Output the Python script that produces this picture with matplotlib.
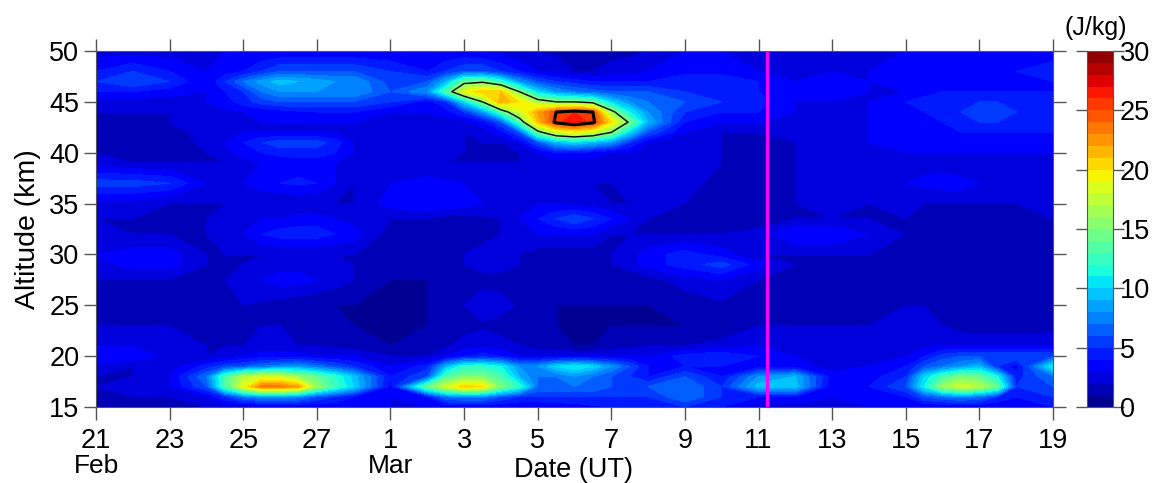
import numpy as np
import matplotlib as mpl
mpl.use('Agg')
import matplotlib.pyplot as plt

plt.rcParams['font.family'] = ['Liberation Sans', 'DejaVu Sans']

# days since 21 Feb, read finer where the features are narrow
days = [0, 1, 2, 3,
        3.5, 4, 4.5, 5, 5.5, 6, 6.5, 7,
        8, 9,
        9.5, 10, 10.5, 11, 11.5, 12, 12.5, 13, 13.5, 14, 14.5, 15,
        16, 17, 18, 19, 20, 21, 22,
        22.5, 23, 23.5, 24, 24.5, 25, 26]
altitudes = [15, 16, 17, 18, 19, 20, 21, 23, 25, 27.5, 29, 30, 32, 33.5, 35, 37, 39, 40, 41, 42, 43, 44, 45, 46, 47, 48, 50]

e15 = [1.3, 1.5, 2, 2, 2.2, 2.5, 2.5, 2.5, 2.8, 3, 3.2, 3.5, 3, 3, 3, 3, 3, 3, 3, 3, 3.2, 3.5, 3.8, 4, 4, 4, 5, 4, 2.5, 2.5, 2.5, 3, 3, 3, 3, 3, 3, 3, 3, 4]
e16 = [1.5, 2, 2, 3, 5, 7, 8, 8, 7.5, 6, 5, 4, 3, 4, 7, 7.5, 7.5, 6, 5, 5, 5, 5, 5, 5, 5, 5, 7, 5, 4, 4, 3, 4, 4, 6, 7, 7.5, 7, 5, 4, 5]
e17 = [2, 2.5, 3, 6, 13, 19, 23.5, 23.5, 22, 16, 12.5, 10, 3.5, 14, 18, 21, 20, 15, 12, 7, 7, 7, 7, 6, 6, 6, 7, 5, 9.5, 9.5, 3, 4, 6, 11, 16, 18, 17, 14, 5, 6]
e18 = [2, 2, 3, 7, 13, 17, 18, 18, 16, 14, 12, 9.5, 4, 6, 13, 15, 15, 13, 9, 7, 7, 8, 7, 6, 5, 4, 6, 4, 8, 9, 3.5, 3.5, 5, 10, 13, 15, 14, 11, 4.5, 7]
e19 = [2.5, 2, 2.5, 4.5, 5.5, 6, 7, 7.5, 8, 7, 6, 5, 3, 4.5, 9, 12, 12, 11, 8, 8, 10, 11, 10, 8, 6, 4, 4, 4, 3.5, 3.5, 2.5, 3, 4, 6, 7, 8, 9, 5, 3.5, 11]
e20 = [4, 4, 2.5, 2, 2.5, 3, 3.5, 3.5, 3.5, 3, 3, 3, 2, 2, 3, 4, 4.5, 4, 3, 3, 3, 3, 3, 3, 3, 3, 4.5, 5, 4, 3, 2.5, 3, 3, 4, 5.5, 6, 6, 6, 6, 6]
e21 = [3, 3, 2.5, 2, 2, 2, 2.5, 2.5, 2, 2, 1.8, 1.5, 1, 1.2, 1.8, 2.5, 2.8, 2.5, 2, 1.5, 1.2, 1, 1, 1.5, 1.8, 2, 2, 2.5, 3, 2.5, 2.5, 2.5, 2.5, 2.8, 3, 3, 3, 3, 3, 3]
e23 = [2, 2, 2, 2, 2, 2, 2, 2, 1.8, 1.5, 1.2, 1, 1, 1, 1.2, 1.5, 1.8, 1.5, 1.3, 1.2, 1, 1, 1, 1, 1, 1, 1, 1, 2, 2, 2, 2, 2.5, 2.2, 2, 1.5, 1.2, 1.2, 1.2, 1.5]
e25 = [2, 2, 2, 2, 2, 2, 1.8, 1.5, 1.2, 1, 1, 1, 1, 1, 1.5, 2, 2.8, 2.5, 1.8, 1.2, 1, 1, 1, 1, 1, 1, 1.3, 1.8, 2, 1.3, 1.3, 1.3, 2, 2, 1.5, 1.2, 1.2, 1.2, 1.2, 1.3]
e27 = [2, 2, 2, 2, 2, 2.5, 3, 3.5, 3.5, 3, 2.5, 2, 1, 1, 1.2, 1.5, 1.5, 1.5, 1.3, 1.2, 1.2, 1.2, 1.2, 1.2, 1.2, 1.5, 2.5, 3, 2, 2, 1.5, 1.5, 1.2, 1.2, 1.2, 1.2, 1.2, 1.2, 1.2, 1.5]
e29 = [2.5, 3.5, 3.5, 2, 2, 2, 2.2, 2.5, 2.5, 2.5, 2.2, 2, 1.2, 1.2, 1.5, 2, 2.5, 2.5, 2, 1.5, 1.5, 1.5, 1.5, 2, 2.5, 3.5, 4.5, 5.5, 3.5, 2, 2, 2, 1.5, 1.3, 1.3, 1.5, 1.5, 1.5, 1.5, 1.5]
e30 = [3, 3.5, 3.5, 2, 2, 2, 2, 2, 2, 2, 2, 2, 1.5, 1.2, 1.5, 2, 2.5, 2.5, 2, 1.5, 1.5, 1.5, 1.5, 2, 2.5, 3.5, 4.5, 3.5, 2, 2, 2, 2, 2, 2, 2, 2, 2, 2, 2, 2]
e32 = [2.5, 2, 2, 2, 2.5, 3, 4, 4.5, 4.5, 4.5, 4, 3.5, 1.5, 1.2, 1.2, 1.2, 1.5, 2, 2.5, 3, 3, 3, 3, 2, 2, 2, 2, 2, 2.5, 4, 4, 3, 2, 2, 2, 1.5, 1.5, 1.5, 2, 2]
e33 = [2, 2, 2, 2, 2.2, 2.5, 3, 3, 3.5, 3.5, 3, 2.5, 2, 2, 1.5, 1.5, 1.8, 2, 3, 4, 5, 6, 5, 4, 3, 2, 2, 1.5, 1.2, 2, 2, 2, 2, 2, 1.5, 1.5, 1.5, 1.5, 2, 2]
e35 = [2.5, 2.5, 2, 2, 2, 2, 2, 2, 2, 2, 2, 2, 3.5, 4, 4, 3.5, 3, 3, 3, 3, 3, 2.5, 2.5, 2, 2, 2.5, 2, 1.5, 1.2, 2, 2.5, 2, 2.5, 2, 2, 2, 2, 2, 2, 2.5]
e37 = [5.5, 5.5, 5, 3, 3, 3, 3.5, 4, 4.2, 4, 3, 2, 3, 3.5, 3.2, 3, 3, 3, 2.8, 2.5, 2.2, 2, 2, 2, 2.2, 2.5, 2.5, 1.5, 1.2, 2, 2.5, 2.5, 3, 3.3, 3.5, 3.5, 3, 3, 3, 3]
e39 = [2.5, 2, 2, 2, 2, 2.5, 3, 3, 3.5, 3.5, 3, 2.5, 2, 2, 2, 2, 2, 2, 2, 2.5, 2.5, 2.5, 2.5, 2.5, 2.5, 2.5, 2.5, 2, 1.2, 2, 2.5, 2.5, 2.5, 2.5, 2.5, 2, 2, 2, 2, 2.5]
e40 = [2, 1.5, 1, 2, 2.5, 3.5, 4, 4.5, 4.5, 4.5, 4, 3, 2.5, 2.5, 2.2, 2, 2, 2, 2, 3, 4, 4, 3.5, 3, 3, 2.5, 2.5, 2, 1.2, 2, 2.5, 2.5, 3, 3, 3, 3, 3, 3, 3, 3]
e41 = [2, 1.5, 1, 2.5, 3, 4, 5, 5.5, 5.5, 5.5, 4.5, 3, 2.5, 2.5, 2.2, 2, 2, 2, 3, 6, 9, 10, 9, 8, 5, 3, 2.5, 2, 1.5, 2, 2.5, 3, 3.5, 3.5, 3.5, 3.5, 3.5, 3.5, 3.5, 3.5]
e42 = [2, 2, 1.5, 2.5, 2.8, 3, 3, 3, 3, 3, 2.8, 2.5, 2.5, 2.5, 2.2, 2, 2.5, 3.5, 6, 14, 18, 19, 18, 15, 10, 6, 3, 2, 2, 2.5, 3, 3, 3.5, 3.5, 3.5, 4, 4, 4, 4, 4]
e43 = [2, 2, 2, 2.5, 2.8, 3, 3, 3, 3, 3, 3, 3, 3, 2.5, 2.5, 2.5, 3.5, 6, 13, 21, 25.5, 27, 25.5, 20, 14.5, 9, 4, 3, 3, 3, 3, 3, 3.5, 4, 4, 4.5, 5, 5, 4.5, 4.5]
e44 = [2, 2, 2, 2.5, 2.8, 3, 3.2, 3.5, 3.8, 4, 4, 4, 3, 3, 3.5, 5, 8, 13, 18, 22, 25, 26, 25, 16, 11, 8, 5, 4, 4, 3, 3, 3, 3.5, 4, 4.5, 5, 5.5, 5.5, 5, 5]
e45 = [2.5, 2.5, 2.5, 3, 3.5, 4.5, 5.5, 6, 6, 6, 6, 6, 5, 3.5, 5, 10, 15, 22, 20, 16.5, 15, 15, 14, 10, 8, 7, 6, 5, 4.5, 3, 3, 3, 4, 4.5, 5, 5, 5, 5, 5, 5]
e46 = [4, 4, 3.5, 3, 4, 5, 7, 8, 8, 8, 8, 8, 6, 8, 13, 19, 21, 21, 15, 10, 8, 7, 6.5, 6, 6, 6, 5, 5, 4, 3.5, 3.5, 3, 3, 3.5, 4, 4, 4, 4, 4, 4]
e47 = [5, 6, 5, 3, 5, 7, 8.5, 9.5, 9, 8.5, 8, 8, 5.5, 6, 9, 14, 14.5, 12, 8, 6, 5, 4.5, 4, 4, 4, 4, 5, 5, 4, 3, 4, 3, 4, 3.8, 3.5, 3.8, 4, 4, 4, 4]
e48 = [4, 5, 4, 3, 3.5, 4, 5, 6, 6, 6, 6, 6, 5, 4, 5, 6, 6, 5, 4, 3, 2.5, 2, 2, 2.5, 2.5, 3, 3.5, 3.5, 3, 3, 3, 3, 3.5, 3.5, 3.5, 3.5, 3.5, 3.8, 4, 4.5]
e50 = [2.5, 2.5, 2.5, 3, 3, 3, 3, 3, 3, 3, 3, 3, 3, 3, 3, 3, 2.8, 2.5, 2, 2, 1.8, 1.5, 1.5, 1.5, 1.8, 2, 3, 3, 3, 3, 3, 3, 3, 3, 3, 3, 3, 3, 3, 3.5]

energy = np.array([e15, e16, e17, e18, e19, e20, e21, e23, e25, e27, e29, e30, e32, e33,
                   e35, e37, e39, e40, e41, e42, e43, e44, e45, e46, e47, e48, e50])

event_day = 18.23
date_ticks = np.arange(0, 27, 2)
date_labels = ['21', '23', '25', '27', '1', '3', '5', '7', '9', '11', '13', '15', '17', '19']
alt_ticks = np.arange(15, 51, 5)

W, H = 1154, 483
fig = plt.figure(figsize=(W / 100, H / 100), dpi=100)
ax = fig.add_axes([96 / W, 1 - 407 / H, 957 / W, 356 / H])
cax = fig.add_axes([1087 / W, 1 - 407 / H, 26 / W, 356 / H])

frame = '#555555'
levels = np.arange(0, 31, 1)
cf = ax.contourf(days, altitudes, energy, levels=levels, cmap='jet')

# contours only for the upper feature
alts = np.array(altitudes)
upper = alts >= 35
ax.contour(days, alts[upper], energy[upper], levels=[15], colors='k', linewidths=1)
ax.contour(days, alts[upper], energy[upper], levels=[25], colors='k', linewidths=2.2)

ax.axvline(event_day, color='#ff00ff', lw=2.3)

ax.set_xlim(0, 26)
ax.set_ylim(15, 50)
ax.set_xticks(date_ticks)
ax.set_xticklabels(date_labels)
ax.set_yticks(alt_ticks)
ax.tick_params(axis='both', direction='out', length=9, width=1, color=frame, labelsize=19.5, pad=4)
ax.tick_params(axis='x', top=True, pad=6)
ax.tick_params(axis='y', right=True, pad=3)
for s in ax.spines.values():
    s.set_color(frame)
ax.set_ylabel('Altitude (km)', fontsize=20.5, labelpad=6)

cb = fig.colorbar(cf, cax=cax, ticks=np.arange(0, 31, 5))
cb.outline.set_edgecolor(frame)
cax.tick_params(axis='y', left=True, right=True, direction='out', length=8, width=1,
                color=frame, labelsize=19.5, pad=-3)

fig.text(96 / W, 1 - 466 / H, 'Feb', fontsize=19, ha='center', va='center')
fig.text(391 / W, 1 - 466 / H, 'Mar', fontsize=19, ha='center', va='center')
fig.text(574 / W, 1 - 470 / H, 'Date (UT)', fontsize=19.5, ha='center', va='center')
fig.text(1096 / W, 1 - 28 / H, '(J/kg)', fontsize=18, ha='center', va='center')

plt.savefig('out.png', dpi=100)
